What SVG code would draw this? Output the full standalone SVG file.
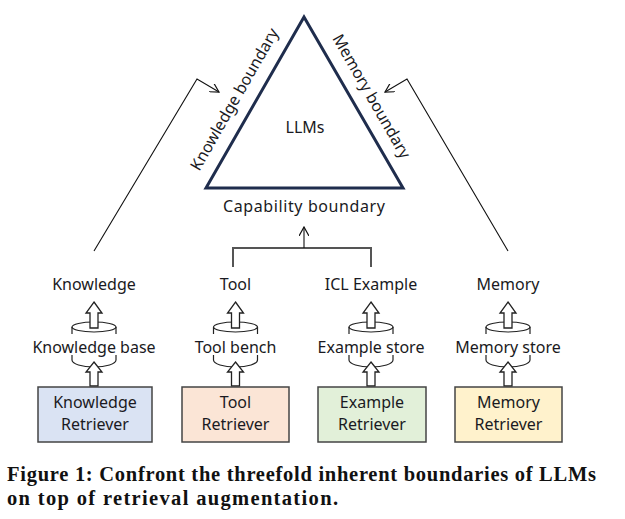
<svg xmlns="http://www.w3.org/2000/svg" width="625" height="519" viewBox="0 0 625 519">
<style>
.t{font-family:"Noto Sans","DejaVu Sans",sans-serif;font-size:16px;fill:#1a1a22;text-anchor:middle}
.cap{font-family:"Liberation Serif","Times New Roman",serif;font-size:20.5px;font-weight:bold;fill:#111}
.cyl{fill:none;stroke:#222;stroke-width:1.2}
.blk{fill:#fff;stroke:#222;stroke-width:1.3;stroke-linejoin:miter}
.box{stroke:#444;stroke-width:1.5}
.ln{fill:none;stroke:#111;stroke-width:1.1}
</style>
<defs>
<marker id="ah" viewBox="0 0 10 10" refX="9" refY="5" markerWidth="10" markerHeight="10" markerUnits="userSpaceOnUse" orient="auto">
<path d="M0,0 L9,5 L0,10" fill="none" stroke="#111" stroke-width="1.2"/>
</marker>
<g id="col">
<ellipse cx="0" cy="327" rx="22" ry="5" class="cyl"/>
<path class="cyl" d="M-22,327 V334 M22,327 V334 M-22,355 V360 A22,7 0 0 0 22,360 V355"/>
<path class="blk" d="M0,302 L8,313 L4,313 L4,328 L-4,328 L-4,313 L-8,313 Z"/>
<path class="blk" d="M0,362 L8,372 L4,372 L4,386 L-4,386 L-4,372 L-8,372 Z"/>
</g>
</defs>

<g id="connectors">
<polyline class="ln" points="94,251 197,79 219,92" marker-end="url(#ah)"/>
<polyline class="ln" points="508,251 407,79 385,92" marker-end="url(#ah)"/>
<polyline points="233,267 233,248 371,248 371,267" fill="none" stroke="#555" stroke-width="2"/>
<line class="ln" x1="304" y1="248" x2="304" y2="227" stroke-width="1.3" marker-end="url(#ah)"/>
</g>

<g id="llms">
<polygon points="304,17 206,188 403,188" fill="none" stroke="#1f2d4d" stroke-width="3" stroke-linejoin="miter"/>
<text class="t" x="305" y="133" font-size="17">LLMs</text>
<text class="t" transform="translate(234,99) rotate(-60.2)" y="6">Knowledge boundary</text>
<text class="t" transform="translate(372,96) rotate(60.2)" y="6">Memory boundary</text>
<text class="t" x="304" y="212" textLength="162">Capability boundary</text>
</g>

<g id="knowledge">
<use href="#col" x="94"/>
<text class="t" x="94" y="290">Knowledge</text>
<text class="t" x="94" y="353">Knowledge base</text>
<rect class="box" x="38" y="387" width="114" height="55" fill="#dae3f3"/>
<text class="t" x="95" y="408">Knowledge</text>
<text class="t" x="95" y="430">Retriever</text>
</g>

<g id="tool">
<use href="#col" x="235.5"/>
<text class="t" x="235.5" y="290">Tool</text>
<text class="t" x="235.5" y="353">Tool bench</text>
<rect class="box" x="182" y="387" width="107" height="55" fill="#fbe5d6"/>
<text class="t" x="235.5" y="408">Tool</text>
<text class="t" x="235.5" y="430">Retriever</text>
</g>

<g id="example">
<use href="#col" x="371"/>
<text class="t" x="371" y="290">ICL Example</text>
<text class="t" x="371" y="353">Example store</text>
<rect class="box" x="318" y="387" width="108" height="55" fill="#e2f0d9"/>
<text class="t" x="372" y="408">Example</text>
<text class="t" x="372" y="430">Retriever</text>
</g>

<g id="memory">
<use href="#col" x="508"/>
<text class="t" x="508" y="290">Memory</text>
<text class="t" x="508" y="353">Memory store</text>
<rect class="box" x="455" y="387" width="107" height="55" fill="#fff2cc"/>
<text class="t" x="508.5" y="408">Memory</text>
<text class="t" x="508.5" y="430">Retriever</text>
</g>

<g id="caption">
<text class="cap" x="7" y="481" textLength="589">Figure 1: Confront the threefold inherent boundaries of LLMs</text>
<text class="cap" x="7" y="505" textLength="331">on top of retrieval augmentation.</text>
</g>
</svg>
